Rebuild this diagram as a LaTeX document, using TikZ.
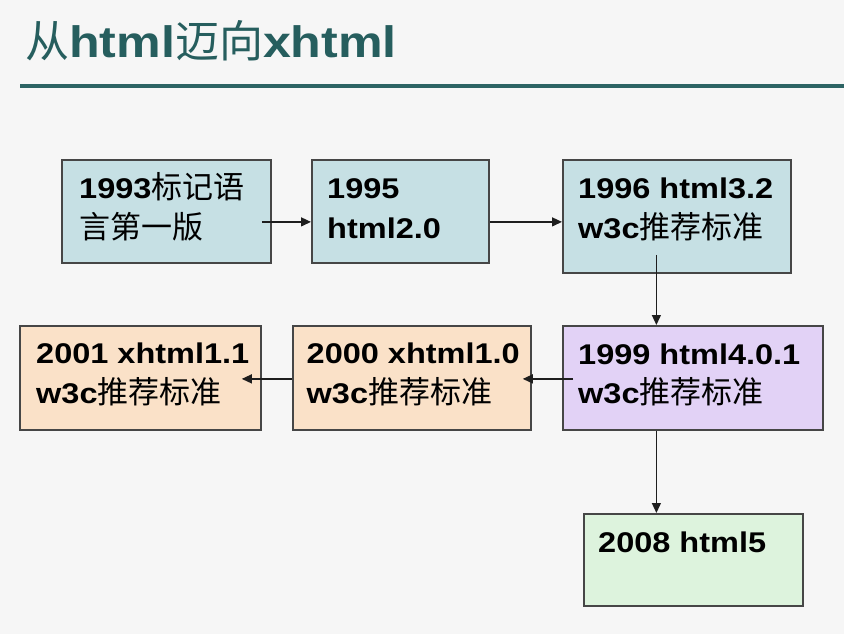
\documentclass[tikz,border=0pt]{standalone}
\usepackage{fontspec}
\setmainfont{Liberation Sans}[FakeStretch=1.14]
\newfontfamily\cjk{Noto Sans CJK SC}
\newcommand\zhtxt[1]{{\cjk\mdseries\fontsize{31}{31}\selectfont #1}}
\newcommand\zhtitle[1]{{\cjk\mdseries #1}}
\usetikzlibrary{arrows.meta}
\definecolor{bgc}{RGB}{246,246,246}
\definecolor{teal1}{RGB}{38,94,94}
\definecolor{teal2}{RGB}{45,100,100}
\definecolor{bluef}{RGB}{198,224,228}
\definecolor{purf}{RGB}{226,210,246}
\definecolor{peachf}{RGB}{250,225,200}
\definecolor{greenf}{RGB}{221,243,221}
\definecolor{edgec}{RGB}{70,70,70}
\definecolor{arrc}{RGB}{30,30,30}
\tikzset{
  box/.style={draw=edgec, line width=1.8pt, anchor=north west, inner sep=0pt},
  lbl/.style={anchor=base west, inner sep=0pt, font=\bfseries\fontsize{28.5}{28.5}\selectfont, text=black},
  arr/.style={draw=arrc, line width=1.3pt, -{Triangle[length=10pt,width=9pt]}},
}
\begin{document}
\begin{tikzpicture}[x=1pt,y=-1pt]
\fill[bgc] (0,0) rectangle (844,634);
\useasboundingbox (0,0) rectangle (844,634);
% title
\node[anchor=base west, inner sep=0pt, text=teal1, font=\fontsize{44}{44}\selectfont] (title) at (25,58)
  {\zhtitle{从}\textbf{html}\zhtitle{迈向}\textbf{xhtml}};
\draw[teal2, line width=4pt] (20,86) -- (844,86);
% boxes
\node[box, fill=bluef, minimum width=209, minimum height=103] (b1) at (61,159) {};
\node[box, fill=bluef, minimum width=177, minimum height=103] (b2) at (311,159) {};
\node[box, fill=bluef, minimum width=228, minimum height=113] (b3) at (562,159) {};
\node[box, fill=purf, minimum width=260, minimum height=104] (b4) at (562,325) {};
\node[box, fill=peachf, minimum width=238, minimum height=104] (b5) at (292,325) {};
\node[box, fill=peachf, minimum width=241, minimum height=104] (b6) at (19,325) {};
\node[box, fill=greenf, minimum width=219, minimum height=92] (b7) at (583,513) {};
% texts
\node[lbl] (t1a) at (79,198) {1993\zhtxt{标记语}};
\node[lbl] (t1b) at (79,238) {\zhtxt{言第一版}};
\node[lbl] (t2a) at (327,198) {1995};
\node[lbl] (t2b) at (327,238) {html2.0};
\node[lbl] (t3a) at (578,198) {1996 html3.2};
\node[lbl] (t3b) at (578,238) {w3c\zhtxt{推荐标准}};
\node[lbl] (t4a) at (578,364) {1999 html4.0.1};
\node[lbl] (t4b) at (578,403) {w3c\zhtxt{推荐标准}};
\node[lbl] (t5a) at (306.5,363) {2000 xhtml1.0};
\node[lbl] (t5b) at (306.5,403) {w3c\zhtxt{推荐标准}};
\node[lbl] (t6a) at (36,363) {2001 xhtml1.1};
\node[lbl] (t6b) at (36,403) {w3c\zhtxt{推荐标准}};
\node[lbl] (t7a) at (598,552) {2008 html5};
% arrows
\draw[arr] ([shift={(-10,10.5)}]b1.east) -- ([shift={(0,10.5)}]b2.west);
\draw[arr] ([shift={(0,10.5)}]b2.east) -- ([shift={(0,5.5)}]b3.west);
\draw[arr] ([shift={(-20.5,-19)}]b3.south) -- ([shift={(-36.5,0)}]b4.north);
\draw[arr] ([shift={(11,1)}]b4.west) -- ([shift={(-9,1)}]b5.east);
\draw[arr] ([shift={(0,1)}]b5.west) -- ([shift={(-20,1)}]b6.east);
\draw[arr] ([shift={(-36.5,0)}]b4.south) -- ([shift={(-37,0)}]b7.north);
\end{tikzpicture}
\end{document}
